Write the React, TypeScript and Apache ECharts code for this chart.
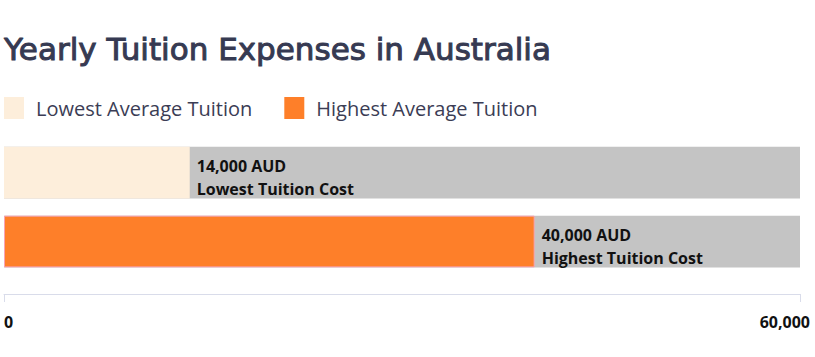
import React, { useEffect, useRef } from "react";
import * as echarts from "echarts";

// Tuition figures (AUD per year)
const categories = ["Lowest Tuition Cost", "Highest Tuition Cost"];
const seriesNames = ["Lowest Average Tuition", "Highest Average Tuition"];
const lowestValues: (number | string)[] = [14000, "-"];
const highestValues: (number | string)[] = ["-", 40000];
const axisMax = 60000;
const trackValues = [axisMax, axisMax];
const tickLabels = ["0", "60,000"];

const fmt = (v: number) => v.toLocaleString("en-US");

export default function App() {
  const ref = useRef<HTMLDivElement>(null);

  useEffect(() => {
    if (!ref.current) return;
    const chart = echarts.init(ref.current, undefined, { renderer: "svg" });

    const labelFor = (name: string) => ({
      show: true,
      position: "right",
      distance: 7,
      offset: [0, 5],
      formatter: (p: any) => `${fmt(p.value)} AUD\n${name}`,
      color: "#111111",
      fontFamily: "Open Sans",
      fontWeight: "bold",
      fontSize: 16,
      lineHeight: 23,
    });

    chart.setOption({
      animation: false,
      title: {
        text: "Yearly Tuition Expenses in Australia",
        left: 4,
        top: 33,
        padding: 0,
        textStyle: {
          fontFamily: "DejaVu Sans",
          fontWeight: "normal",
          fontSize: 31,
          color: "#363a52",
          textBorderColor: "#363a52",
          textBorderWidth: 1,
        },
      },
      legend: {
        data: seriesNames,
        left: 4,
        top: 97,
        padding: 0,
        icon: "rect",
        itemWidth: 20,
        itemHeight: 22,
        itemGap: 32,
        itemStyle: { borderWidth: 0 },
        textStyle: {
          fontFamily: "Open Sans",
          fontSize: 20,
          color: "#3b3d55",
          padding: [0, 0, 0, 7],
        },
      },
      grid: { left: 4, right: 15, top: 138, height: 138 },
      xAxis: {
        type: "value",
        min: 0,
        max: axisMax,
        interval: axisMax,
        offset: 18,
        axisLine: { show: true, lineStyle: { color: "#d9dcea", width: 1 } },
        axisTick: { show: true, length: 8, lineStyle: { color: "#d9dcea" } },
        splitLine: { show: false },
        axisLabel: {
          margin: 20,
          color: "#111111",
          fontFamily: "Open Sans",
          fontWeight: "bold",
          fontSize: 16,
          padding: [0, -10, 0, 0],
          alignMinLabel: "left",
          alignMaxLabel: "right",
          formatter: (v: number) => (v === 0 ? tickLabels[0] : tickLabels[1]),
        },
      },
      yAxis: {
        type: "category",
        data: categories,
        inverse: true,
        show: false,
      },
      series: [
        {
          name: "track",
          type: "bar",
          data: trackValues,
          barCategoryGap: "25%",
          itemStyle: { color: "#c4c4c4" },
          silent: true,
        },
        {
          name: seriesNames[0],
          type: "bar",
          data: lowestValues,
          barGap: "-100%",
          itemStyle: { color: "#fdeedb" },
          label: labelFor(categories[0]),
        },
        {
          name: seriesNames[1],
          type: "bar",
          data: highestValues,
          barGap: "-100%",
          itemStyle: { color: "#fe7f29", borderColor: "#f7a3b4", borderWidth: 1 },
          label: labelFor(categories[1]),
        },
      ],
    });

    return () => chart.dispose();
  }, []);

  return (
    <div
      ref={ref}
      style={{ position: "absolute", left: 0, top: 0, width: 815, height: 357 }}
    />
  );
}
